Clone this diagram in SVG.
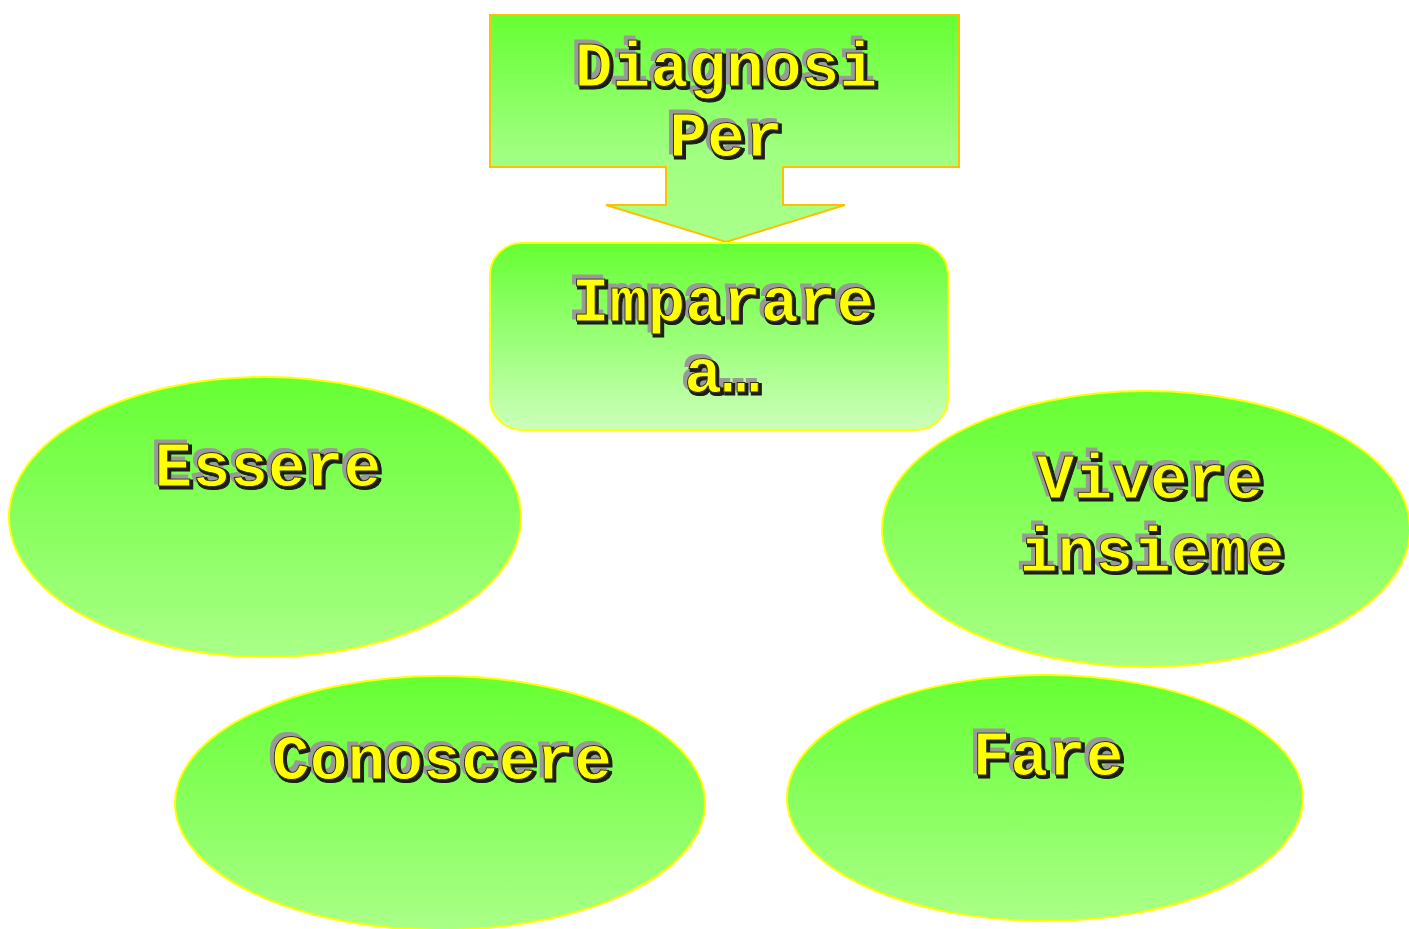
<svg xmlns="http://www.w3.org/2000/svg" width="1409" height="929" viewBox="0 0 1409 929">
<defs>
<linearGradient id="gTop" x1="0" y1="0" x2="0" y2="1">
<stop offset="0" stop-color="#66FF33"/><stop offset="1" stop-color="#AAFF88"/>
</linearGradient>
<linearGradient id="gArrow" gradientUnits="userSpaceOnUse" x1="0" y1="15" x2="0" y2="242">
<stop offset="0" stop-color="#66FF33"/><stop offset="0.6" stop-color="#A0FF80"/><stop offset="1" stop-color="#AAFF8A"/>
</linearGradient>
<linearGradient id="gRect" x1="0" y1="0" x2="0" y2="1">
<stop offset="0" stop-color="#66FF33"/><stop offset="1" stop-color="#CCFFBB"/>
</linearGradient>
<filter id="emb" x="-10%" y="-20%" width="120%" height="140%">
<feMorphology in="SourceAlpha" operator="dilate" radius="1" result="d"/>
<feOffset in="d" dx="-3" dy="-3" result="a"/>
<feFlood flood-color="#999999"/>
<feComposite in2="a" operator="in" result="gray"/>
<feOffset in="d" dx="2" dy="2" result="b"/>
<feFlood flood-color="#1a1a1a"/>
<feComposite in2="b" operator="in" result="dark"/>
<feMerge><feMergeNode in="gray"/><feMergeNode in="dark"/><feMergeNode in="SourceGraphic"/></feMerge>
</filter>
<style>
.t{font-family:"Liberation Mono","Courier New",monospace;font-weight:bold;font-size:63px;text-anchor:middle;fill:#FFFF00;stroke:#333300;stroke-width:1;filter:url(#emb)}
.ell{fill:url(#gTop);stroke:#FFFF00;stroke-width:2}
</style>
</defs>
<g id="connectors"></g>
<g id="diagnosi">
<path d="M490,15 H959 V167 H783 V205 H845 L726,242 L606,205 H666 V167 H490 Z" fill="url(#gArrow)" stroke="#FFC000" stroke-width="2"/>
<text class="t" x="726" y="86">Diagnosi</text>
<text class="t" x="726" y="156">Per</text>
</g>
<g id="imparare">
<rect x="490" y="243" width="458" height="187" rx="32" fill="url(#gRect)" stroke="#FFFF00" stroke-width="2"/>
<text class="t" x="723" y="321">Imparare</text>
<text class="t" x="722" y="392">a…</text>
</g>
<g id="essere">
<ellipse class="ell" cx="265" cy="517" rx="256" ry="140"/>
<text class="t" x="268" y="486">Essere</text>
</g>
<g id="vivere">
<ellipse class="ell" cx="1146" cy="529" rx="264" ry="138"/>
<text class="t" x="1150" y="498">Vivere</text>
<text class="t" x="1152" y="571">insieme</text>
</g>
<g id="conoscere">
<ellipse class="ell" cx="440" cy="803" rx="265" ry="127"/>
<text class="t" x="442" y="779">Conoscere</text>
</g>
<g id="fare">
<ellipse class="ell" cx="1045" cy="798" rx="258" ry="123"/>
<text class="t" x="1048" y="775">Fare</text>
</g>
</svg>
